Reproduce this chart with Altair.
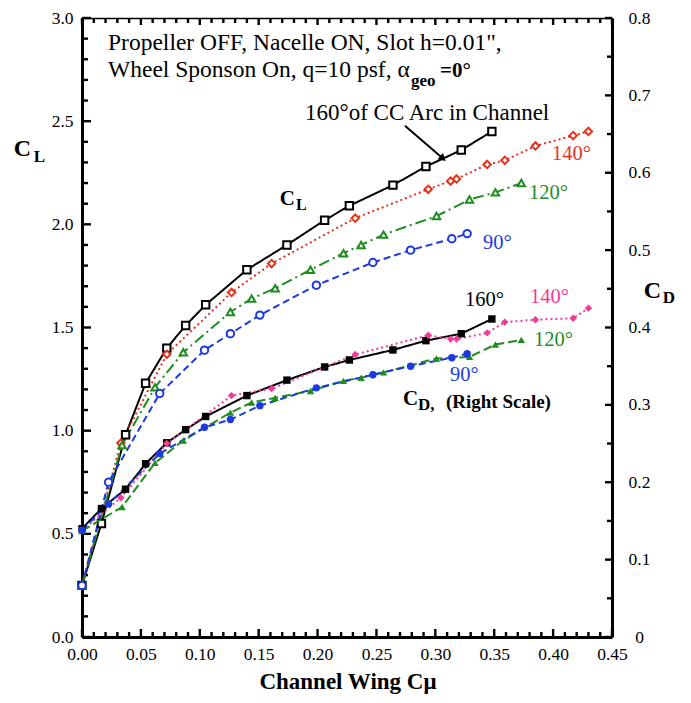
import altair as alt
import pandas as pd

# ---------------- data ----------------
series_names = ["160", "140", "120", "90"]

cmu_160 = [0.0, 0.0165, 0.037, 0.054, 0.072, 0.088, 0.105, 0.140, 0.174, 0.206, 0.227, 0.264, 0.292, 0.322, 0.348]
cl_160 = [0.25, 0.55, 0.98, 1.23, 1.40, 1.51, 1.61, 1.78, 1.90, 2.02, 2.09, 2.19, 2.28, 2.36, 2.45]
cd_160 = [0.140, 0.166, 0.191, 0.224, 0.251, 0.268, 0.285, 0.312, 0.332, 0.349, 0.358, 0.371, 0.383, 0.392, 0.411]

cmu_140 = [0.0, 0.033, 0.072, 0.127, 0.161, 0.232, 0.294, 0.313, 0.318, 0.344, 0.359, 0.385, 0.417, 0.430]
cl_140 = [0.25, 0.94, 1.37, 1.67, 1.81, 2.03, 2.17, 2.21, 2.22, 2.29, 2.31, 2.38, 2.43, 2.45]
cd_140 = [0.138, 0.180, 0.250, 0.312, 0.321, 0.365, 0.390, 0.385, 0.385, 0.393, 0.407, 0.410, 0.412, 0.425]

cmu_120 = [0.0, 0.034, 0.062, 0.086, 0.126, 0.144, 0.164, 0.194, 0.222, 0.237, 0.256, 0.301, 0.329, 0.351, 0.373]
cl_120 = [0.25, 0.93, 1.21, 1.38, 1.575, 1.64, 1.69, 1.78, 1.86, 1.90, 1.95, 2.04, 2.12, 2.155, 2.20]
cd_120 = [0.137, 0.168, 0.225, 0.254, 0.290, 0.303, 0.309, 0.318, 0.331, 0.335, 0.342, 0.360, 0.362, 0.378, 0.384]

cmu_90 = [0.0, 0.0225, 0.066, 0.104, 0.126, 0.151, 0.199, 0.247, 0.279, 0.314, 0.327]
cl_90 = [0.25, 0.75, 1.18, 1.39, 1.47, 1.56, 1.705, 1.815, 1.875, 1.93, 1.955]
cd_90 = [0.138, 0.172, 0.237, 0.271, 0.281, 0.299, 0.322, 0.339, 0.350, 0.361, 0.366]

# tick values (major = labelled)
x_major = [round(i * 0.05, 2) for i in range(10)]
x_minor = [round(i * 0.01, 2) for i in range(46) if i % 5 != 0]
cl_major = [round(i * 0.5, 1) for i in range(7)]
cl_minor = [round(i * 0.1, 1) for i in range(31) if i % 5 != 0]
cd_major = [round(i * 0.1, 1) for i in range(9)]
cd_minor = [round(0.05 + i * 0.1, 2) for i in range(8)]

# ---------------- styles ----------------
FONT = "Liberation Serif"
RED = "#e5321b"
PINK = "#f03c96"
GREEN = "#1e8c1e"
BLUE = "#1c3ae0"
W, H = 530, 619
X_MAX, CL_MAX, CD_MAX = 0.45, 3.0, 0.8


def long_form(xs_list, ys_list):
    rows = []
    for name, xs, ys in zip(series_names, xs_list, ys_list):
        for i, (a, b) in enumerate(zip(xs, ys)):
            rows.append({"series": name, "x": a, "y": b, "idx": i})
    return pd.DataFrame(rows)


cl_df = long_form([cmu_160, cmu_140, cmu_120, cmu_90], [cl_160, cl_140, cl_120, cl_90])
cd_df = long_form([cmu_160, cmu_140, cmu_120, cmu_90], [cd_160, cd_140, cd_120, cd_90])

x_scale = alt.Scale(domain=[0, X_MAX], nice=False, zero=False)
cl_scale = alt.Scale(domain=[0, CL_MAX], nice=False)
cd_scale = alt.Scale(domain=[0, CD_MAX], nice=False)

axis_common = dict(grid=False, ticks=False, domain=True, domainColor="black",
                   labelFont=FONT, labelFontSize=17.5, labelColor="black", labelOverlap=False)

x_axis_bottom = alt.Axis(orient="bottom", values=x_major, labelFlush=False, labelPadding=8, format=".2f",
                         domainWidth=3, title=None, **axis_common)
x_axis_top = alt.Axis(orient="top", values=x_major, labels=False, title=None, domainWidth=1.5, **axis_common)
cl_axis = alt.Axis(orient="left", values=cl_major, labelPadding=9, title=None, format=".1f",
                   domainWidth=3, **axis_common)
cd_axis = alt.Axis(orient="right", values=cd_major, labelPadding=27, labelAlign="center", title=None,
                   domainWidth=3,
                   labelExpr="datum.value == 0 ? '0' : format(datum.value, '.1f')",
                   **axis_common)

cl_colors = alt.Scale(domain=series_names, range=["black", RED, GREEN, BLUE])
cd_colors = alt.Scale(domain=series_names, range=["black", PINK, GREEN, BLUE])
cl_dash = alt.Scale(domain=series_names, range=[[1, 0], [2, 3], [11, 4, 2, 4], [7, 4]])
cd_dash = alt.Scale(domain=series_names, range=[[1, 0], [2, 3], [9, 4], [7, 4]])
shapes = alt.Scale(domain=series_names, range=["square", "diamond", "triangle-up", "circle"])

THICK = 1.2  # half tick thickness in px


# ---------------- inward tick marks as thin rects, drawn through the scales ----------------
def xticks(values, px, top):
    d = px / H * CL_MAX
    h = THICK / W * X_MAX
    a, b = (CL_MAX, CL_MAX - d) if top else (0.0, d)
    df = pd.DataFrame({"x0": [v - h for v in values], "x1": [v + h for v in values], "a": a, "b": b})
    return alt.Chart(df).mark_rect(color="black", opacity=1).encode(
        x=alt.X("x0:Q", scale=x_scale, axis=None), x2="x1:Q",
        y=alt.Y("a:Q", scale=cl_scale, axis=None), y2="b:Q")


def yticks(values, scale, vmax, px, right):
    d = px / W * X_MAX
    h = THICK / H * vmax
    a, b = (X_MAX, X_MAX - d) if right else (0.0, d)
    df = pd.DataFrame({"y0": [v - h for v in values], "y1": [v + h for v in values], "a": a, "b": b})
    return alt.Chart(df).mark_rect(color="black", opacity=1).encode(
        y=alt.Y("y0:Q", scale=scale, axis=None), y2="y1:Q",
        x=alt.X("a:Q", scale=x_scale, axis=None), x2="b:Q")


tick_layers = [
    xticks(x_major, 8, False), xticks(x_minor, 5, False),
    xticks(x_major, 7, True), xticks(x_minor, 5, True),
    yticks(cl_major, cl_scale, CL_MAX, 9, False), yticks(cl_minor, cl_scale, CL_MAX, 6, False),
    yticks(cd_major, cd_scale, CD_MAX, 7, True), yticks(cd_minor, cd_scale, CD_MAX, 5, True),
]

# ---------------- CL marks ----------------
cl_lines = alt.Chart(cl_df).mark_line(strokeWidth=2).encode(
    x=alt.X("x:Q", scale=x_scale, axis=x_axis_bottom),
    y=alt.Y("y:Q", scale=cl_scale, axis=cl_axis),
    color=alt.Color("series:N", scale=cl_colors, legend=None),
    strokeDash=alt.StrokeDash("series:N", scale=cl_dash, legend=None),
    order="idx:Q",
)
cl_points = alt.Chart(cl_df).mark_point(filled=False, fill="white", fillOpacity=1, strokeWidth=2, opacity=1, size=55).encode(
    x=alt.X("x:Q", scale=x_scale, axis=None),
    y=alt.Y("y:Q", scale=cl_scale, axis=None),
    color=alt.Color("series:N", scale=cl_colors, legend=None),
    shape=alt.Shape("series:N", scale=shapes, legend=None),
)

normal_ann = pd.DataFrame([
    {"t": "Propeller OFF, Nacelle ON, Slot h=0.01\",", "x": 0.0221, "y": 2.845, "fs": 23.5, "c": "black"},
    {"t": "Wheel Sponson On, q=10 psf, α", "x": 0.0221, "y": 2.715, "fs": 23.5, "c": "black"},
    {"t": "160°of CC Arc in Channel", "x": 0.1893, "y": 2.507, "fs": 23, "c": "black"},
    {"t": "140°", "x": 0.399, "y": 2.314, "fs": 20.5, "c": RED},
    {"t": "120°", "x": 0.3795, "y": 2.121, "fs": 20.5, "c": GREEN},
    {"t": "90°", "x": 0.3404, "y": 1.879, "fs": 20.5, "c": BLUE},
    {"t": "160°", "x": 0.3251, "y": 1.604, "fs": 20.5, "c": "black"},
    {"t": "140°", "x": 0.3803, "y": 1.618, "fs": 20.5, "c": PINK},
    {"t": "120°", "x": 0.3837, "y": 1.411, "fs": 20.5, "c": GREEN},
    {"t": "90°", "x": 0.3124, "y": 1.242, "fs": 20.5, "c": BLUE},
])
bold_ann = pd.DataFrame([
    {"t": "geo", "x": 0.2793, "y": 2.671, "fs": 17},
    {"t": "=0°", "x": 0.3040, "y": 2.715, "fs": 21},
    {"t": "C", "x": 0.168, "y": 2.092, "fs": 21},
    {"t": "L", "x": 0.1817, "y": 2.068, "fs": 16},
    {"t": "C", "x": 0.2725, "y": 1.126, "fs": 21},
    {"t": "D,", "x": 0.2852, "y": 1.101, "fs": 17},
    {"t": "(Right Scale)", "x": 0.3090, "y": 1.111, "fs": 19},
    {"t": "C", "x": -0.0580, "y": 2.329, "fs": 24},
    {"t": "L", "x": -0.0410, "y": 2.304, "fs": 17},
    {"t": "C", "x": 0.4770, "y": 1.643, "fs": 24},
    {"t": "D", "x": 0.4930, "y": 1.618, "fs": 17},
])
x_title = pd.DataFrame([{"t": "Channel Wing Cμ", "x": 0.2258, "y": -0.252, "fs": 23}])

text_normal = alt.Chart(normal_ann).mark_text(align="left", baseline="alphabetic", font=FONT).encode(
    x=alt.X("x:Q", scale=x_scale, axis=None),
    y=alt.Y("y:Q", scale=cl_scale, axis=None),
    text="t:N",
    size=alt.Size("fs:Q", scale=None, legend=None),
    color=alt.Color("c:N", scale=None, legend=None),
)
text_bold = alt.Chart(bold_ann).mark_text(align="left", baseline="alphabetic", font=FONT,
                                          fontWeight="bold", color="black").encode(
    x=alt.X("x:Q", scale=x_scale, axis=None),
    y=alt.Y("y:Q", scale=cl_scale, axis=None),
    text="t:N",
    size=alt.Size("fs:Q", scale=None, legend=None),
)
text_xtitle = alt.Chart(x_title).mark_text(align="center", baseline="alphabetic", font=FONT,
                                           fontWeight="bold", color="black").encode(
    x=alt.X("x:Q", scale=x_scale, axis=None),
    y=alt.Y("y:Q", scale=cl_scale, axis=None),
    text="t:N",
    size=alt.Size("fs:Q", scale=None, legend=None),
)

arrow_df = pd.DataFrame([{"x": 0.2742, "y": 2.478, "x2": 0.3065, "y2": 2.319}])
arrow_line = alt.Chart(arrow_df).mark_rule(color="black", strokeWidth=2).encode(
    x=alt.X("x:Q", scale=x_scale, axis=None),
    y=alt.Y("y:Q", scale=cl_scale, axis=None),
    x2="x2:Q", y2="y2:Q",
)
arrow_head = alt.Chart(arrow_df).mark_point(shape="triangle-right", filled=True, color="black",
                                            size=70, angle=41, opacity=1).encode(
    x=alt.X("x2:Q", scale=x_scale, axis=None),
    y=alt.Y("y2:Q", scale=cl_scale, axis=None),
)

# ---------------- CD marks ----------------
cd_lines = alt.Chart(cd_df).mark_line(strokeWidth=2).encode(
    x=alt.X("x:Q", scale=x_scale, axis=x_axis_top),
    y=alt.Y("y:Q", scale=cd_scale, axis=cd_axis),
    color=alt.Color("series:N", scale=cd_colors, legend=None),
    strokeDash=alt.StrokeDash("series:N", scale=cd_dash, legend=None),
    order="idx:Q",
)
cd_points = alt.Chart(cd_df).mark_point(filled=True, opacity=1, size=55).encode(
    x=alt.X("x:Q", scale=x_scale, axis=None),
    y=alt.Y("y:Q", scale=cd_scale, axis=None),
    color=alt.Color("series:N", scale=cd_colors, legend=None),
    shape=alt.Shape("series:N", scale=shapes, legend=None),
)

chart = alt.layer(
    *tick_layers, cl_lines, cl_points, cd_lines, cd_points, arrow_line, arrow_head,
    text_normal, text_bold, text_xtitle
).resolve_scale(
    x="independent", y="independent", color="independent",
    strokeDash="independent", shape="independent",
).properties(
    width=W, height=H,
    autosize=alt.AutoSizeParams(type="none"),
    padding={"left": 74, "top": 10, "right": 71, "bottom": 58},
    background="white",
).configure_view(strokeWidth=0)

chart.save("out.html", embed_options={"renderer": "svg", "actions": False})
